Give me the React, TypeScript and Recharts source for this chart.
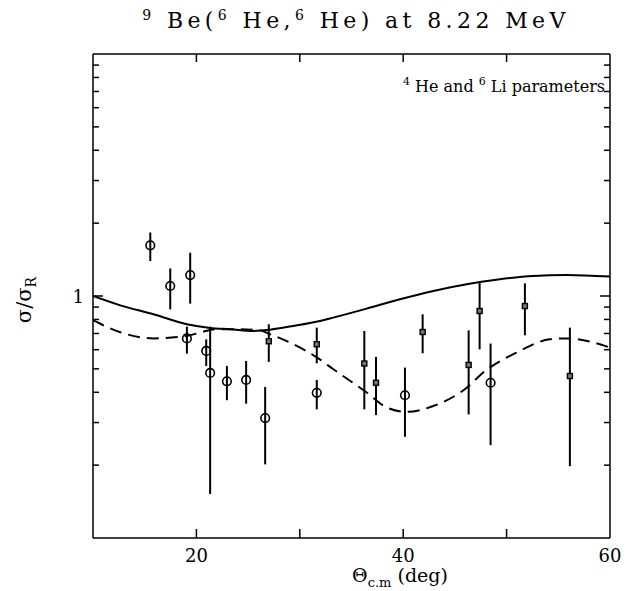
import React from 'react';
import { ComposedChart, XAxis, YAxis, Line, Scatter, ErrorBar } from 'recharts';

// Open circles (angle in deg, sigma/sigma_R, error-bar upper and lower ends)
const circleAngles = [15.54, 17.47, 19.4, 19.08, 20.95, 21.33, 22.95, 24.81, 26.65, 31.64, 40.17, 48.45];
const circleValues = [1.62, 1.1, 1.22, 0.668, 0.593, 0.481, 0.444, 0.45, 0.313, 0.398, 0.389, 0.438];
const circleHigh = [1.83, 1.3, 1.51, 0.747, 0.662, 0.747, 0.514, 0.539, 0.421, 0.45, 0.506, 0.636];
const circleLow = [1.395, 0.881, 0.93, 0.578, 0.514, 0.152, 0.371, 0.359, 0.2015, 0.34, 0.262, 0.242];

// Small squares
const squareAngles = [27.0, 31.64, 36.24, 37.37, 41.88, 46.33, 47.39, 51.77, 56.12];
const squareValues = [0.65, 0.632, 0.526, 0.438, 0.71, 0.519, 0.867, 0.909, 0.467];
const squareHigh = [0.764, 0.74, 0.717, 0.56, 0.84, 0.721, 1.136, 1.128, 0.74];
const squareLow = [0.534, 0.527, 0.34, 0.322, 0.58, 0.324, 0.602, 0.688, 0.198];

// Solid curve
const solidAngles = [10, 12.64, 15.86, 19.08, 21.33, 23.27, 25.52, 27.13, 29.38, 31.96, 33.25, 36.47, 39.69, 42.91, 46.14, 49.35, 52.57, 55.8, 60];
const solidValues = [1.0, 0.915, 0.84, 0.764, 0.738, 0.729, 0.717, 0.726, 0.752, 0.788, 0.814, 0.887, 0.969, 1.049, 1.118, 1.172, 1.21, 1.221, 1.203];

// Dashed curve
const dashedAngles = [10, 12.64, 15.86, 19.08, 20.37, 21.82, 24.23, 26.16, 27.13, 29.38, 31.64, 33.25, 36.47, 38.41, 40.34, 42.91, 46.14, 47.74, 50.97, 54.18, 55.8, 59.02, 60];
const dashedValues = [0.794, 0.708, 0.668, 0.684, 0.706, 0.729, 0.729, 0.721, 0.695, 0.632, 0.558, 0.498, 0.399, 0.346, 0.332, 0.351, 0.418, 0.483, 0.584, 0.662, 0.668, 0.632, 0.612];

const xTicks = [10, 20, 30, 40, 50, 60];
const xLabels = [20, 40, 60];
const yTicks = [0.1, 0.2, 0.3, 0.4, 0.5, 0.6, 0.7, 0.8, 0.9, 1, 2, 3, 4, 5, 6, 7, 8, 9, 10];
const yLabels = [1];

const circleData = circleAngles.map((x, i) => ({ x, y: circleValues[i], err: [circleValues[i] - circleLow[i], circleHigh[i] - circleValues[i]] }));
const squareData = squareAngles.map((x, i) => ({ x, y: squareValues[i], err: [squareValues[i] - squareLow[i], squareHigh[i] - squareValues[i]] }));
const solidData = solidAngles.map((x, i) => ({ x, y: solidValues[i] }));
const dashedData = dashedAngles.map((x, i) => ({ x, y: dashedValues[i] }));

const FONT = '"DejaVu Serif", serif';
const isEdgeX = (v: number) => v === 10 || v === 60;
const isEdgeY = (v: number) => v === 0.1 || v === 10;

const BottomTick = (p: any) => {
  const v = p.payload.value;
  return (
    <g>
      {!isEdgeX(v) && <line x1={p.x} x2={p.x} y1={p.y} y2={p.y - 9} stroke="#000" strokeWidth={1.5} />}
      {xLabels.includes(v) && (
        <text x={p.x} y={p.y + 24} textAnchor="middle" fontFamily={FONT} fontSize={18} fill="#000">{v}</text>
      )}
    </g>
  );
};
const TopTick = (p: any) => {
  const v = p.payload.value;
  if (isEdgeX(v)) return <g />;
  return <line x1={p.x} x2={p.x} y1={p.y} y2={p.y + 8} stroke="#000" strokeWidth={1.5} />;
};
const LeftTick = (p: any) => {
  const v = p.payload.value;
  const major = v === 1;
  return (
    <g>
      {!isEdgeY(v) && <line x1={p.x} x2={p.x + (major ? 10 : 6)} y1={p.y} y2={p.y} stroke="#000" strokeWidth={1.5} />}
      {yLabels.includes(v) && (
        <text x={p.x - 9} y={p.y + 7} textAnchor="end" fontFamily={FONT} fontSize={18} fill="#000">{v}</text>
      )}
    </g>
  );
};
const RightTick = (p: any) => {
  const v = p.payload.value;
  if (isEdgeY(v)) return <g />;
  const major = v === 1;
  return <line x1={p.x} x2={p.x - (major ? 10 : 6)} y1={p.y} y2={p.y} stroke="#000" strokeWidth={1.5} />;
};

const CircleShape = (p: any) => <circle cx={p.cx} cy={p.cy} r={4.3} fill="none" stroke="#000" strokeWidth={1.6} />;
const SquareShape = (p: any) => <rect x={p.cx - 2.5} y={p.cy - 2.5} width={5} height={5} fill="#777" stroke="#000" strokeWidth={1.4} />;

const axisLine = { stroke: '#000', strokeWidth: 1.5 };

export default function App() {
  return (
    <div style={{ position: 'relative', width: 621, height: 583 }}>
      <ComposedChart width={621} height={583} margin={{ top: 36, right: 9, bottom: 23, left: 55 }}>
        <XAxis dataKey="x" type="number" domain={[10, 60]} ticks={xTicks} interval={0} allowDataOverflow tickSize={0} tickMargin={0} height={30} axisLine={axisLine} tickLine={false} tick={BottomTick} />
        <XAxis xAxisId="top" orientation="top" dataKey="x" type="number" domain={[10, 60]} ticks={xTicks} interval={0} allowDataOverflow tickSize={0} tickMargin={0} height={10} axisLine={axisLine} tickLine={false} tick={TopTick} />
        <YAxis dataKey="y" type="number" scale="log" domain={[0.1, 10]} ticks={yTicks} interval={0} allowDataOverflow tickSize={0} tickMargin={0} width={30} axisLine={axisLine} tickLine={false} tick={LeftTick} />
        <YAxis yAxisId="right" orientation="right" dataKey="y" type="number" scale="log" domain={[0.1, 10]} ticks={yTicks} interval={0} allowDataOverflow tickSize={0} tickMargin={0} width={10} axisLine={axisLine} tickLine={false} tick={RightTick} />
        <Line data={solidData} dataKey="y" type="monotone" stroke="#000" strokeWidth={2} dot={false} isAnimationActive={false} />
        <Line data={dashedData} dataKey="y" type="monotone" stroke="#000" strokeWidth={2} strokeDasharray="12 7" dot={false} isAnimationActive={false} />
        <Scatter data={circleData} dataKey="y" shape={CircleShape} isAnimationActive={false}>
          <ErrorBar dataKey="err" direction="y" width={0} stroke="#000" strokeWidth={2} isAnimationActive={false} />
        </Scatter>
        <Scatter data={squareData} dataKey="y" shape={SquareShape} isAnimationActive={false}>
          <ErrorBar dataKey="err" direction="y" width={0} stroke="#000" strokeWidth={2} isAnimationActive={false} />
        </Scatter>
      </ComposedChart>
      <svg width={621} height={583} style={{ position: 'absolute', left: 0, top: 0, pointerEvents: 'none', overflow: 'visible' }}>
        <text x={348} y={20} textAnchor="middle" fontFamily={FONT} fontSize={22} fill="#000" letterSpacing={4.4}>
          <tspan fontSize={14} dy={-8}>9</tspan>
          <tspan dy={8}> Be(</tspan>
          <tspan fontSize={14} dy={-8}>6</tspan>
          <tspan dy={8}> He,</tspan>
          <tspan fontSize={14} dy={-8}>6</tspan>
          <tspan dy={8}> He) at 8.22 MeV</tspan>
        </text>
        <text x={597} y={84} textAnchor="end" fontFamily={FONT} fontSize={16} fill="#000">
          <tspan fontSize={11} dy={-7}>4</tspan>
          <tspan dy={7}> He and </tspan>
          <tspan fontSize={11} dy={-7}>6</tspan>
          <tspan dy={7}> Li parameters</tspan>
        </text>
        <text x={392} y={574} textAnchor="middle" fontFamily={FONT} fontSize={19} fill="#000">
          <tspan>Θ</tspan>
          <tspan fontSize={13} dy={5}>c.m</tspan>
          <tspan dy={-5}> (deg)</tspan>
        </text>
        <text x={23} y={292} transform="rotate(-90 23 292)" textAnchor="middle" fontFamily={FONT} fontSize={21} fill="#000">
          <tspan>σ/σ</tspan>
          <tspan fontSize={14} dy={5}>R</tspan>
        </text>
      </svg>
    </div>
  );
}
